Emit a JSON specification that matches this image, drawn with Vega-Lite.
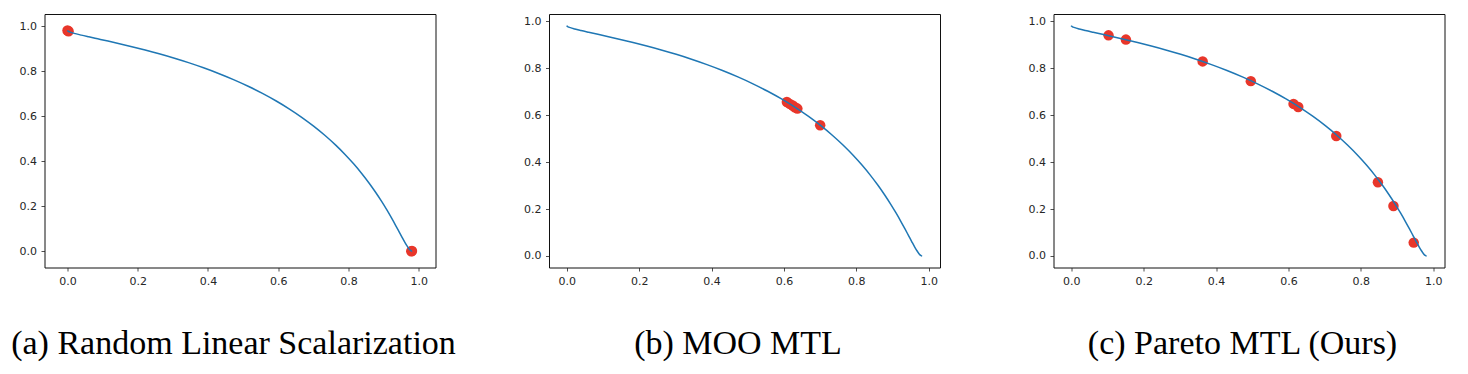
{
  "$schema": "https://vega.github.io/schema/vega-lite/v6.json",
  "padding": {"left": 10.5, "top": 13, "right": 5, "bottom": 5},
  "background": "white",
  "datasets": {
    "front": [
      {"x": 0, "y": 0.98168}, {"x": 0.00062, "y": 0.97977}, {"x": 0.0025, "y": 0.97769}, {"x": 0.00995, "y": 0.97295},
      {"x": 0.02225, "y": 0.96737}, {"x": 0.03921, "y": 0.96084}, {"x": 0.06059, "y": 0.95323}, {"x": 0.08607, "y": 0.94442},
      {"x": 0.11529, "y": 0.93429}, {"x": 0.14786, "y": 0.9227}, {"x": 0.18331, "y": 0.90951}, {"x": 0.2212, "y": 0.8946},
      {"x": 0.26103, "y": 0.87786}, {"x": 0.30232, "y": 0.85914}, {"x": 0.34459, "y": 0.83838}, {"x": 0.38737, "y": 0.81548},
      {"x": 0.43022, "y": 0.79039}, {"x": 0.47271, "y": 0.76307}, {"x": 0.51446, "y": 0.73353}, {"x": 0.55514, "y": 0.7018},
      {"x": 0.59445, "y": 0.66796}, {"x": 0.63212, "y": 0.63212}, {"x": 0.66796, "y": 0.59445}, {"x": 0.7018, "y": 0.55514},
      {"x": 0.73353, "y": 0.51446}, {"x": 0.76307, "y": 0.47271}, {"x": 0.79039, "y": 0.43022}, {"x": 0.81548, "y": 0.38737},
      {"x": 0.83838, "y": 0.34459}, {"x": 0.85914, "y": 0.30232}, {"x": 0.87786, "y": 0.26103}, {"x": 0.8946, "y": 0.2212},
      {"x": 0.90951, "y": 0.18331}, {"x": 0.9227, "y": 0.14786}, {"x": 0.93429, "y": 0.11529}, {"x": 0.94442, "y": 0.08607},
      {"x": 0.95323, "y": 0.06059}, {"x": 0.96084, "y": 0.03921}, {"x": 0.96737, "y": 0.02225}, {"x": 0.97295, "y": 0.00995},
      {"x": 0.97769, "y": 0.0025}, {"x": 0.97977, "y": 0.00062}, {"x": 0.98168, "y": 0}
    ],
    "ptsA": [
      {"x": 0.0, "y": 0.981}, {"x": 0.003, "y": 0.978}, {"x": 0.979, "y": 0.0}, {"x": 0.981, "y": 0.001}
    ],
    "ptsB": [
      {"x": 0.608, "y": 0.656}, {"x": 0.616, "y": 0.648}, {"x": 0.624, "y": 0.641}, {"x": 0.63, "y": 0.634},
      {"x": 0.637, "y": 0.628}, {"x": 0.7, "y": 0.557}
    ],
    "ptsC": [
      {"x": 0.103, "y": 0.94}, {"x": 0.151, "y": 0.922}, {"x": 0.363, "y": 0.829}, {"x": 0.496, "y": 0.745},
      {"x": 0.614, "y": 0.648}, {"x": 0.627, "y": 0.635}, {"x": 0.732, "y": 0.511}, {"x": 0.847, "y": 0.314},
      {"x": 0.89, "y": 0.213}, {"x": 0.946, "y": 0.057}
    ]
  },
  "hconcat": [
    {
      "width": 391, "height": 253.5,
      "title": {"text": "(a) Random Linear Scalarization", "orient": "bottom", "offset": 40, "dx": -6.5},
      "layer": [
        {
          "data": {"name": "ptsA"},
          "mark": {"type": "point", "filled": true, "size": 110, "color": "#e8362a", "opacity": 1},
          "encoding": {
            "x": {"field": "x", "type": "quantitative", "scale": {"domain": [-0.0655, 1.048], "nice": false, "zero": false}, "axis": {"values": [0, 0.2, 0.4, 0.6, 0.8, 1.0], "format": ".1f"}},
            "y": {"field": "y", "type": "quantitative", "scale": {"domain": [-0.0724, 1.0547], "nice": false, "zero": false}, "axis": {"values": [0, 0.2, 0.4, 0.6, 0.8, 1.0], "format": ".1f"}}
          }
        },
        {
          "data": {"name": "front"},
          "mark": {"type": "line", "color": "#1f77b4", "strokeWidth": 1.5, "interpolate": "monotone"},
          "encoding": {
            "x": {"field": "x", "type": "quantitative"},
            "y": {"field": "y", "type": "quantitative"}
          }
        }
      ]
    },
    {
      "width": 391, "height": 253.5,
      "title": {"text": "(b) MOO MTL", "orient": "bottom", "offset": 40, "dx": -6.5},
      "layer": [
        {
          "data": {"name": "ptsB"},
          "mark": {"type": "point", "filled": true, "size": 110, "color": "#e8362a", "opacity": 1},
          "encoding": {
            "x": {"field": "x", "type": "quantitative", "scale": {"domain": [-0.049, 1.031], "nice": false, "zero": false}, "axis": {"values": [0, 0.2, 0.4, 0.6, 0.8, 1.0], "format": ".1f"}},
            "y": {"field": "y", "type": "quantitative", "scale": {"domain": [-0.049, 1.031], "nice": false, "zero": false}, "axis": {"values": [0, 0.2, 0.4, 0.6, 0.8, 1.0], "format": ".1f"}}
          }
        },
        {
          "data": {"name": "front"},
          "mark": {"type": "line", "color": "#1f77b4", "strokeWidth": 1.5, "interpolate": "monotone"},
          "encoding": {
            "x": {"field": "x", "type": "quantitative"},
            "y": {"field": "y", "type": "quantitative"}
          }
        }
      ]
    },
    {
      "width": 391, "height": 253.5,
      "title": {"text": "(c) Pareto MTL (Ours)", "orient": "bottom", "offset": 40, "dx": -6.5},
      "layer": [
        {
          "data": {"name": "ptsC"},
          "mark": {"type": "point", "filled": true, "size": 110, "color": "#e8362a", "opacity": 1},
          "encoding": {
            "x": {"field": "x", "type": "quantitative", "scale": {"domain": [-0.049, 1.031], "nice": false, "zero": false}, "axis": {"values": [0, 0.2, 0.4, 0.6, 0.8, 1.0], "format": ".1f"}},
            "y": {"field": "y", "type": "quantitative", "scale": {"domain": [-0.049, 1.031], "nice": false, "zero": false}, "axis": {"values": [0, 0.2, 0.4, 0.6, 0.8, 1.0], "format": ".1f"}}
          }
        },
        {
          "data": {"name": "front"},
          "mark": {"type": "line", "color": "#1f77b4", "strokeWidth": 1.5, "interpolate": "monotone"},
          "encoding": {
            "x": {"field": "x", "type": "quantitative"},
            "y": {"field": "y", "type": "quantitative"}
          }
        }
      ]
    }
  ],
  "spacing": 113.5,
  "bounds": "flush",
  "resolve": {"scale": {"x": "independent", "y": "independent"}},
  "config": {
    "view": {"stroke": "#111", "strokeWidth": 1},
    "axis": {
      "domain": false, "grid": false, "title": null,
      "tickColor": "#222", "tickWidth": 0.8, "tickSize": 3.5,
      "labelFont": "DejaVu Sans", "labelFontSize": 11, "labelColor": "#262626", "labelPadding": 4.5
    },
    "title": {"font": "Liberation Serif", "fontSize": 34, "fontWeight": "normal", "color": "#000", "anchor": "middle"}
  }
}
